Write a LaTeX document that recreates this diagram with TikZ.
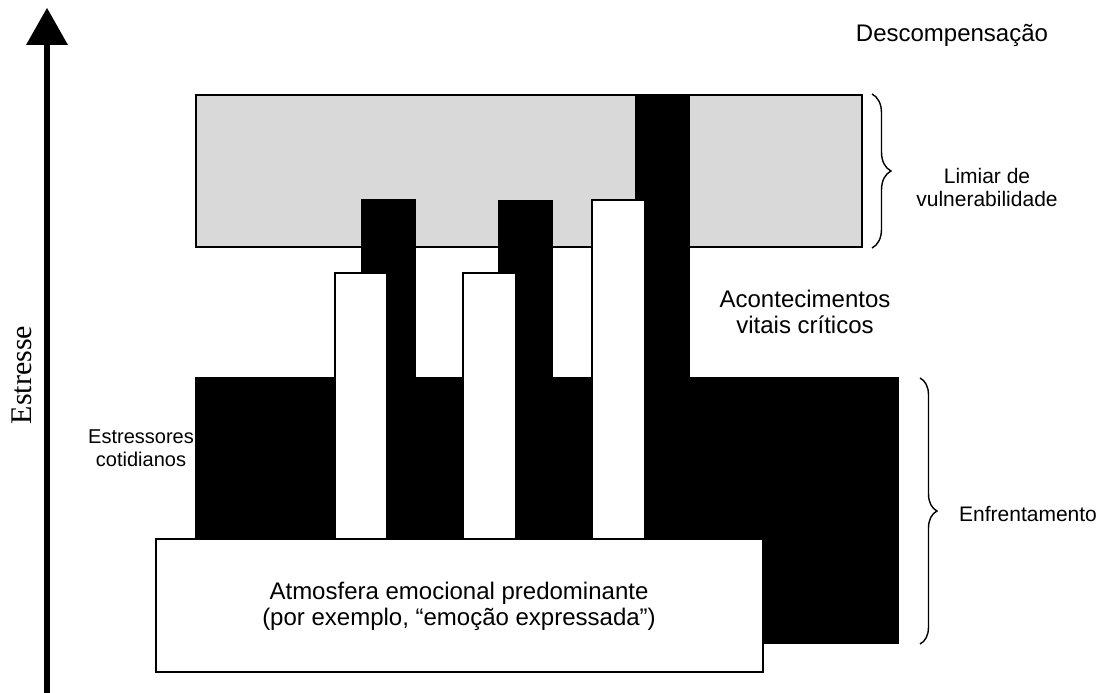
\documentclass[tikz,border=0pt]{standalone}
\usepackage{fontspec}
\setmainfont{Liberation Sans}
\newfontfamily\serifface{Liberation Serif}
\usetikzlibrary{decorations.pathreplacing}
\definecolor{thresholdgray}{RGB}{217,217,217}
\begin{document}
\begin{tikzpicture}[x=1pt,y=-1pt,
  lbl/.style={align=center, inner sep=0pt, font=\fontsize{24}{26}\selectfont},
  smalllbl/.style={align=center, inner sep=0pt, font=\fontsize{21}{23}\selectfont},
  blackbar/.style={fill=black, draw=none},
  whitebar/.style={fill=white, draw=black, line width=1.5pt},
  bracepath/.style={draw=black, line width=1.4pt, decorate,
    decoration={brace, amplitude=#1}},
]
\useasboundingbox (0,0) rectangle (1100,693);

% stress axis
\coordinate (axisfoot) at (47,693);
\coordinate (axishead) at (47,44);
\draw[line width=5.5pt] (axisfoot) -- (axishead);
\fill (26,45) -- (68,45) -- (47,8) -- cycle;
\node[rotate=90, inner sep=0pt, font=\serifface\fontsize{30}{32}\selectfont]
  (estresse) at (22,375) {Estresse};

% vulnerability threshold band
\draw[fill=thresholdgray, line width=2pt] (196,95) rectangle (862,247);

% black columns and everyday stressors block
\path[blackbar] (635,95) rectangle (690,378);
\path[blackbar] (361,199) rectangle (416,378);
\path[blackbar] (498,200) rectangle (553,378);
\path[blackbar] (195,377) rectangle (899,644);

% critical life events
\draw[whitebar] (335,273) rectangle (387,540);
\draw[whitebar] (463,273) rectangle (516,540);
\draw[whitebar] (592,200) rectangle (645,540);

% prevailing emotional atmosphere
\draw[fill=white, line width=2pt] (156,539) rectangle (763,672);
\node[lbl] (atmosfera) at (459,606)
  {Atmosfera emocional predominante\\(por exemplo, “emoção expressada”)};

% braces
\coordinate (braceAtop) at (872,94);
\coordinate (braceAbot) at (872,248);
\draw[bracepath=19pt] (braceAtop) -- (braceAbot);
\coordinate (braceBtop) at (920,378);
\coordinate (braceBbot) at (920,644);
\draw[bracepath=17pt] (braceBtop) -- (braceBbot);

% labels
\node[lbl] (descomp) at (952,35) {Descompensação};
\node[smalllbl] (limiar) at (987,187) {Limiar de\\vulnerabilidade};
\node[lbl] (aconte) at (805,312) {Acontecimentos\\vitais críticos};
\node[smalllbl, font=\fontsize{20}{23}\selectfont] (estress) at (141,448)
  {Estressores\\cotidianos};
\node[smalllbl] (enfrent) at (1028,514) {Enfrentamento};
\end{tikzpicture}
\end{document}
